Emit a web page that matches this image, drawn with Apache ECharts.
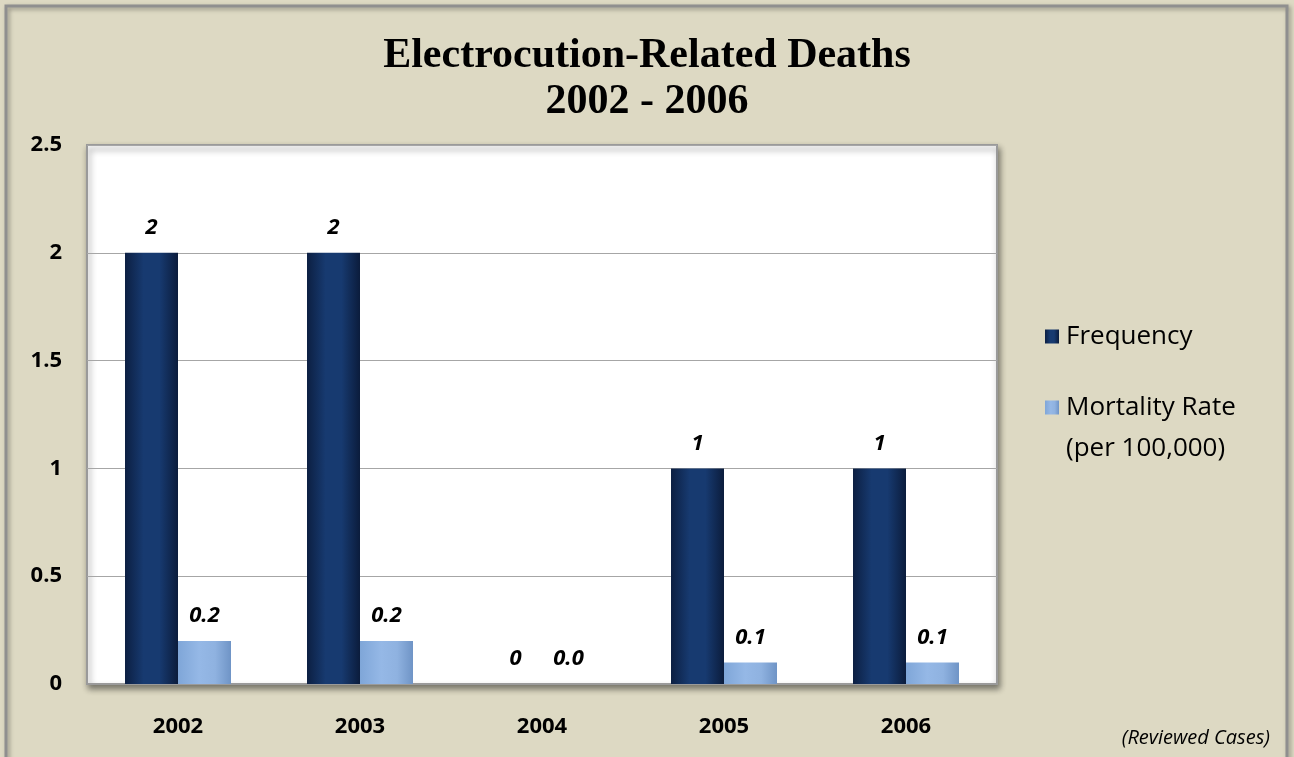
<!DOCTYPE html>
<html>
<head>
<meta charset="utf-8">
<script src="https://cdn.jsdelivr.net/npm/echarts@6/dist/echarts.min.js"></script>
<style>
  html, body { margin: 0; padding: 0; background: #DDD9C3; }
  #chart { width: 1294px; height: 757px; }
</style>
</head>
<body>
<div id="chart"></div>
<script>
// Yearly counts and rates
const years = ['2002', '2003', '2004', '2005', '2006'];
const frequency = [2, 2, 0, 1, 1];
const mortalityRate = [0.2, 0.2, 0.0, 0.1, 0.1];
const yTicks = { min: 0, max: 2.5, step: 0.5 };

const titleText = 'Electrocution-Related Deaths\n2002 - 2006';
const noteText = '(Reviewed Cases)';
const seriesNames = ['Frequency', 'Mortality Rate'];
// the leading blank line keeps the swatch level with the first line of text
const legendText = { 'Frequency': 'Frequency', 'Mortality Rate': '\nMortality Rate\n(per 100,000)' };

const sans = '"Open Sans", "DejaVu Sans", sans-serif';

function hGradient(stops) {
  return new echarts.graphic.LinearGradient(0, 0, 1, 0,
    stops.map(([o, c]) => ({ offset: o, color: c })));
}

const darkBlue = hGradient([[0, '#0c1f42'], [0.35, '#173a70'], [0.65, '#173a70'], [1, '#0b1c3c']]);
const lightBlue = hGradient([[0, '#7fa6d8'], [0.4, '#95b8e6'], [0.7, '#8fb2e0'], [1, '#6f94c6']]);

const valueLabel = {
  show: true,
  position: 'top',
  distance: 14,
  color: '#000',
  fontFamily: sans,
  fontStyle: 'italic',
  fontWeight: 'bold',
  fontSize: 22
};

const chart = echarts.init(document.getElementById('chart'), null, { renderer: 'canvas' });

chart.setOption({
  backgroundColor: '#DDD9C3',
  animation: false,
  graphic: [{
    type: 'rect',
    shape: { x: 6, y: 6, width: 1281, height: 800 },
    style: { fill: 'none', stroke: '#8f8f8f', lineWidth: 3,
             shadowColor: 'rgba(0,0,0,0.35)', shadowBlur: 4, shadowOffsetX: 2, shadowOffsetY: 2 },
    z: -1
  }],
  title: [{
    text: titleText,
    left: 'center',
    top: 28,
    textStyle: {
      fontFamily: '"Liberation Serif", "DejaVu Serif", serif',
      fontWeight: 'bold',
      fontSize: 42,
      lineHeight: 46,
      color: '#000'
    }
  }, {
    text: noteText,
    right: 19,
    bottom: 4,
    textStyle: {
      fontFamily: sans,
      fontStyle: 'italic',
      fontWeight: 'normal',
      fontSize: 20,
      color: '#000'
    }
  }],
  legend: {
    orient: 'vertical',
    left: 1040,
    top: 311,
    itemWidth: 14,
    itemHeight: 14,
    itemGap: -11,
    icon: 'rect',
    data: seriesNames,
    formatter: name => legendText[name],
    textStyle: {
      fontFamily: sans,
      fontSize: 26,
      lineHeight: 41,
      color: '#000',
      padding: [0, 0, 0, 2]
    }
  },
  grid: {
    left: 87,
    right: 297,
    top: 145,
    bottom: 73,
    show: true,
    backgroundColor: '#ffffff',
    borderColor: '#9a9a9a',
    borderWidth: 2,
    shadowColor: 'rgba(0,0,0,0.45)',
    shadowBlur: 6,
    shadowOffsetX: 2,
    shadowOffsetY: 4
  },
  xAxis: {
    type: 'category',
    data: years,
    axisTick: { show: false },
    axisLine: { lineStyle: { color: '#9a9a9a', width: 2 } },
    axisLabel: {
      margin: 32,
      color: '#000',
      fontFamily: sans,
      fontWeight: 'bold',
      fontSize: 22
    }
  },
  yAxis: {
    type: 'value',
    min: yTicks.min,
    max: yTicks.max,
    interval: yTicks.step,
    axisLine: { show: false },
    axisTick: { show: false },
    splitLine: { lineStyle: { color: '#a6a6a6', width: 1 } },
    axisLabel: {
      margin: 25,
      color: '#000',
      fontFamily: sans,
      fontWeight: 'bold',
      fontSize: 22,
      formatter: v => String(v)
    }
  },
  series: [{
    name: seriesNames[0],
    type: 'bar',
    data: frequency,
    barWidth: 53,
    barGap: '0%',
    itemStyle: { color: darkBlue, borderWidth: 0 },
    label: Object.assign({}, valueLabel, { formatter: p => String(p.value) })
  }, {
    name: seriesNames[1],
    type: 'bar',
    data: mortalityRate,
    barWidth: 53,
    barGap: '0%',
    itemStyle: { color: lightBlue, borderWidth: 0 },
    label: Object.assign({}, valueLabel, { formatter: p => Number(p.value).toFixed(1) })
  }]
});
</script>
</body>
</html>
